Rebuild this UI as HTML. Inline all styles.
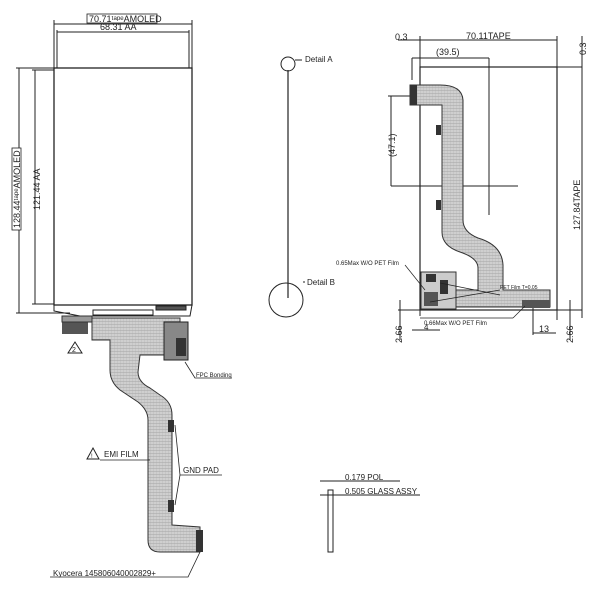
<!DOCTYPE html>
<html><head><style>
html,body{margin:0;padding:0;background:#fff;}
svg{display:block;}
text{font-family:"Liberation Sans",sans-serif;fill:#222;}
</style></head><body>
<svg width="600" height="600" viewBox="0 0 600 600" xmlns="http://www.w3.org/2000/svg">
<defs>
<pattern id="h" width="3" height="3" patternUnits="userSpaceOnUse">
<rect width="3" height="3" fill="#cfcfcf"/><line x1="0" y1="0" x2="3" y2="0" stroke="#999" stroke-width="0.8"/><line x1="0" y1="0" x2="0" y2="3" stroke="#aaa" stroke-width="0.5"/>
</pattern>
</defs>
<g stroke="#222" fill="none" stroke-width="1">
<rect x="54" y="68" width="138" height="237" stroke-width="1.3"/>
<line x1="54" y1="20" x2="54" y2="68"/><line x1="192" y1="20" x2="192" y2="68"/>
<line x1="54" y1="24" x2="192" y2="24"/><line x1="57" y1="32" x2="189" y2="32"/>
<line x1="57" y1="30" x2="57" y2="68"/><line x1="189" y1="30" x2="189" y2="68"/>
<line x1="16" y1="68" x2="54" y2="68"/><line x1="32" y1="70" x2="54" y2="70"/>
<line x1="19" y1="68" x2="19" y2="313"/><line x1="35" y1="70" x2="35" y2="304"/>
<line x1="16" y1="313" x2="70" y2="313"/><line x1="32" y1="304" x2="54" y2="304"/>
<path d="M54 305 L54 311 L80 316 L190 316 L192 305"/>
<rect x="93" y="310" width="60" height="5"/>
<rect x="156" y="306" width="30" height="4" fill="#555"/>
</g>
<rect x="87" y="14" width="70" height="9" fill="#fff" stroke="#222" stroke-width="0.8"/>
<text x="89" y="22" font-size="9">70.71ᵗᵃᵖᵉAMOLED</text>
<text x="100" y="30" font-size="9">68.31  AA</text>
<g transform="translate(18,230) rotate(-90)"><rect x="0" y="-6" width="82" height="9" fill="#fff" stroke="#222" stroke-width="0.8"/><text x="2" y="2" font-size="9">128.44ᵗᵃᵖᵉAMOLED</text></g>
<text transform="translate(40,210) rotate(-90)" font-size="9">121.44  AA</text>
<path d="M92 318 L180 318 L180 355 L140 355 L138 372 Q138 382 150 388 L160 395 Q172 402 172 415 L172 525 L200 527 L200 552 L160 552 Q148 552 148 540 L148 420 Q148 410 138 402 L120 390 Q110 382 110 370 L110 340 L92 340 Z" fill="url(#h)" stroke="#333" stroke-width="1"/>
<rect x="62" y="322" width="26" height="12" fill="#555"/>
<rect x="62" y="316" width="30" height="6" fill="#999" stroke="#333"/>
<rect x="164" y="322" width="24" height="38" fill="#888" stroke="#222"/>
<rect x="176" y="338" width="10" height="18" fill="#333"/>
<rect x="168" y="420" width="6" height="12" fill="#333"/><rect x="168" y="500" width="6" height="12" fill="#333"/>
<rect x="196" y="530" width="7" height="22" fill="#333"/>
<path d="M68 353 L75 342 L82 353 Z" fill="none" stroke="#222"/><text x="72" y="352" font-size="7">2</text>
<g stroke="#222" fill="none" stroke-width="0.8">
<path d="M185 362 L195 378 L232 378"/>
<path d="M100 460 L150 460"/>
<path d="M175 425 L180 475 L175 505"/><path d="M180 475 L222 475"/>
<path d="M200 552 L188 577 L50 577"/>
</g>
<text x="196" y="377" font-size="6">FPC Bonding</text>
<path d="M87 459 L93 448 L99 459 Z" fill="none" stroke="#222"/><text x="91" y="458" font-size="6">!</text>
<text x="104" y="457" font-size="8">EMI FILM</text>
<text x="183" y="473" font-size="8">GND PAD</text>
<text x="53" y="576" font-size="8">Kyocera  145806040002829+</text>
<g stroke="#222" fill="none">
<circle cx="288" cy="64" r="7"/>
<line x1="288" y1="70" x2="288" y2="298" stroke-width="1.2"/>
<circle cx="286" cy="300" r="17"/>
<line x1="295" y1="60" x2="302" y2="60"/><line x1="303" y1="282" x2="305" y2="282"/>
<rect x="328" y="490" width="5" height="62"/>
<line x1="320" y1="481" x2="342" y2="481"/><line x1="320" y1="495" x2="342" y2="495"/>
<line x1="342" y1="481" x2="400" y2="481"/><line x1="342" y1="495" x2="420" y2="495"/>
</g>
<text x="305" y="62" font-size="8">Detail A</text>
<text x="307" y="285" font-size="8">Detail B</text>
<text x="345" y="480" font-size="8">0.179  POL</text>
<text x="345" y="494" font-size="8">0.505  GLASS ASSY</text>
<g stroke="#222" fill="none" stroke-width="1">
<line x1="420" y1="36" x2="420" y2="316"/>
<rect x="420" y="67" width="137" height="243" stroke-width="1.2"/>
<line x1="557" y1="36" x2="557" y2="320"/>
<line x1="398" y1="40" x2="557" y2="40"/>
<line x1="412" y1="58" x2="489" y2="58"/><line x1="412" y1="58" x2="412" y2="80"/>
<line x1="489" y1="58" x2="489" y2="215"/>
<line x1="557" y1="67" x2="582" y2="67"/><line x1="582" y1="36" x2="582" y2="318"/>
<line x1="557" y1="310" x2="582" y2="310"/>
<line x1="388" y1="96" x2="414" y2="96"/><line x1="391" y1="96" x2="391" y2="186"/>
<line x1="391" y1="186" x2="518" y2="186"/>
<line x1="398" y1="310" x2="420" y2="310"/><line x1="400" y1="300" x2="400" y2="340"/>
<line x1="412" y1="330" x2="440" y2="330"/>
<line x1="533" y1="305" x2="533" y2="335"/><line x1="533" y1="333" x2="556" y2="333"/>
<line x1="570" y1="300" x2="570" y2="340"/>
</g>
<text x="395" y="40" font-size="9">0.3</text>
<text x="466" y="39" font-size="9">70.11TAPE</text>
<text x="436" y="55" font-size="9">(39.5)</text>
<text transform="translate(395,157) rotate(-90)" font-size="9">(47.1)</text>
<text transform="translate(580,230) rotate(-90)" font-size="9">127.84TAPE</text>
<text transform="translate(586,55) rotate(-90)" font-size="9">0.3</text>
<text transform="translate(402,343) rotate(-90)" font-size="9">2.66</text>
<text transform="translate(573,343) rotate(-90)" font-size="9">2.66</text>
<text x="424" y="330" font-size="8">4</text>
<text x="539" y="332" font-size="9">13</text>
<path d="M410 85 L440 85 Q462 85 463 100 L463 220 Q463 232 478 238 Q502 245 503 265 L503 290 L550 290 L550 307 L452 307 L450 290 L478 290 L478 268 Q478 258 460 252 Q442 246 442 232 L442 105 L410 105 Z" fill="url(#h)" stroke="#333"/>
<rect x="410" y="85" width="7" height="20" fill="#333"/>
<rect x="421" y="272" width="35" height="37" fill="#ccc" stroke="#333"/>
<rect x="426" y="274" width="10" height="8" fill="#333"/><rect x="440" y="280" width="8" height="14" fill="#333"/>
<rect x="424" y="292" width="14" height="14" fill="#555"/>
<rect x="522" y="300" width="28" height="8" fill="#555"/>
<rect x="436" y="125" width="5" height="10" fill="#333"/><rect x="436" y="200" width="5" height="10" fill="#333"/>
<g stroke="#222" fill="none" stroke-width="0.7">
<line x1="405" y1="265" x2="425" y2="290"/><line x1="440" y1="283" x2="500" y2="295"/>
<line x1="430" y1="302" x2="500" y2="290"/><line x1="420" y1="318" x2="513" y2="318"/>
<line x1="513" y1="318" x2="525" y2="306"/>
</g>
<text x="336" y="265" font-size="6">0.65Max W/O PET Film</text>
<text x="500" y="289" font-size="5">PET Film T=0.05</text>
<text x="424" y="325" font-size="6">0.66Max W/O PET Film</text>
</svg>
</body></html>
